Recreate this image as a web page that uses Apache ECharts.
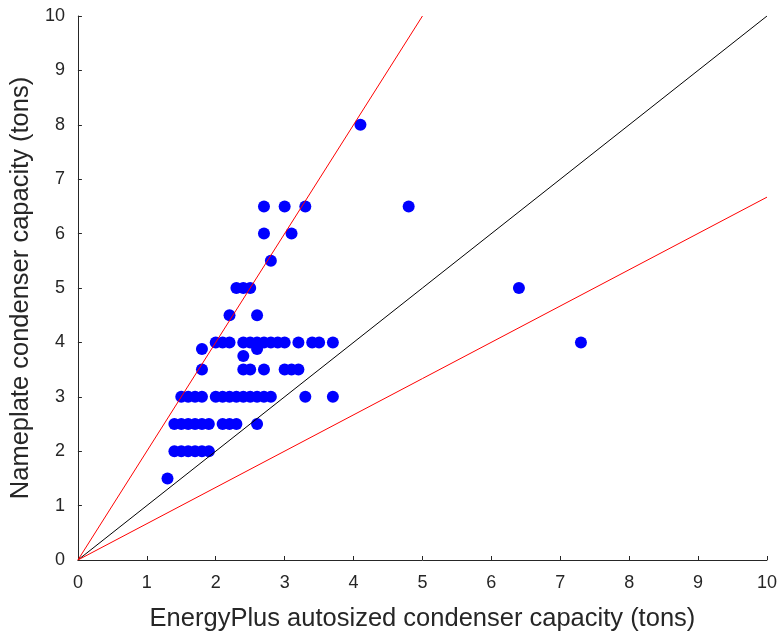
<!DOCTYPE html>
<html>
<head>
<meta charset="utf-8">
<title>Condenser capacity comparison</title>
<script src="https://cdn.jsdelivr.net/npm/echarts@6/dist/echarts.min.js"></script>
<style>
  html, body { margin: 0; padding: 0; background: #ffffff; }
  #chart { width: 780px; height: 637px; }
</style>
</head>
<body>
<div id="chart"></div>
<script>
// EnergyPlus autosized condenser capacity (tons), one entry per unit
const autosized = [
  1.3,
  1.4, 1.5, 1.6, 1.7, 1.8, 1.9,
  1.4, 1.5, 1.6, 1.7, 1.8, 1.9, 2.1, 2.2, 2.3, 2.6,
  1.5, 1.6, 1.7, 1.8, 2.0, 2.1, 2.2, 2.3, 2.4, 2.5, 2.6, 2.7, 2.8, 3.3, 3.7,
  1.8, 2.4, 2.5, 2.7, 3.0, 3.1, 3.2,
  2.4,
  1.8, 2.6,
  2.0, 2.1, 2.2, 2.4, 2.5, 2.6, 2.7, 2.8, 2.9, 3.0, 3.2, 3.4, 3.5, 3.7, 7.3,
  2.2, 2.6,
  2.3, 2.4, 2.5, 6.4,
  2.8,
  2.7, 3.1,
  2.7, 3.0, 3.3, 4.8,
  4.1
];

// Nameplate condenser capacity (tons), same order as above
const nameplate = [
  1.5,
  2, 2, 2, 2, 2, 2,
  2.5, 2.5, 2.5, 2.5, 2.5, 2.5, 2.5, 2.5, 2.5, 2.5,
  3, 3, 3, 3, 3, 3, 3, 3, 3, 3, 3, 3, 3, 3, 3,
  3.5, 3.5, 3.5, 3.5, 3.5, 3.5, 3.5,
  3.75,
  3.88, 3.88,
  4, 4, 4, 4, 4, 4, 4, 4, 4, 4, 4, 4, 4, 4, 4,
  4.5, 4.5,
  5, 5, 5, 5,
  5.5,
  6, 6,
  6.5, 6.5, 6.5, 6.5,
  8
];

// Reference lines: 1:1, and the 2x / 1.5x bounds
const lineOneToOne = [[0, 0], [10, 10]];
const lineUpper = [[0, 0], [5, 10]];
const lineLower = [[0, 0], [10, 6.67]];

const tickValues = [0, 1, 2, 3, 4, 5, 6, 7, 8, 9, 10];

const points = autosized.map((x, i) => [x, nameplate[i]]);

const textColor = '#262626';
const fontFamily = '"Liberation Sans", Arial, Helvetica, sans-serif';

function axisBase(name) {
  return {
    type: 'value',
    min: tickValues[0],
    max: tickValues[tickValues.length - 1],
    interval: tickValues[1] - tickValues[0],
    name: name,
    nameLocation: 'middle',
    nameTextStyle: { color: textColor, fontSize: 25.5, fontFamily: fontFamily },
    axisLine: { show: true, lineStyle: { color: textColor, width: 1 } },
    axisTick: { show: true, inside: true, length: 4, lineStyle: { color: textColor, width: 1 } },
    axisLabel: { color: textColor, fontSize: 18, fontFamily: fontFamily },
    splitLine: { show: false }
  };
}

const xAxis = axisBase('EnergyPlus autosized condenser capacity (tons)');
xAxis.nameGap = 46;
xAxis.axisLabel.margin = 14;

const yAxis = axisBase('Nameplate condenser capacity (tons)');
yAxis.nameGap = 36;
yAxis.axisLabel.margin = 13;

const chart = echarts.init(document.getElementById('chart'), null, { renderer: 'canvas' });
chart.setOption({
  animation: false,
  backgroundColor: '#ffffff',
  grid: { left: 77, right: 12, top: 16, bottom: 74 },
  xAxis: xAxis,
  yAxis: yAxis,
  series: [
    {
      type: 'scatter',
      data: points,
      symbol: 'circle',
      symbolSize: 12,
      itemStyle: { color: '#0000ff', opacity: 1 },
      z: 2
    },
    {
      type: 'line',
      data: lineOneToOne,
      showSymbol: false,
      lineStyle: { color: '#000000', width: 1 },
      z: 3
    },
    {
      type: 'line',
      data: lineUpper,
      showSymbol: false,
      lineStyle: { color: '#ff0000', width: 1 },
      z: 3
    },
    {
      type: 'line',
      data: lineLower,
      showSymbol: false,
      lineStyle: { color: '#ff0000', width: 1 },
      z: 3
    }
  ]
});
</script>
</body>
</html>
